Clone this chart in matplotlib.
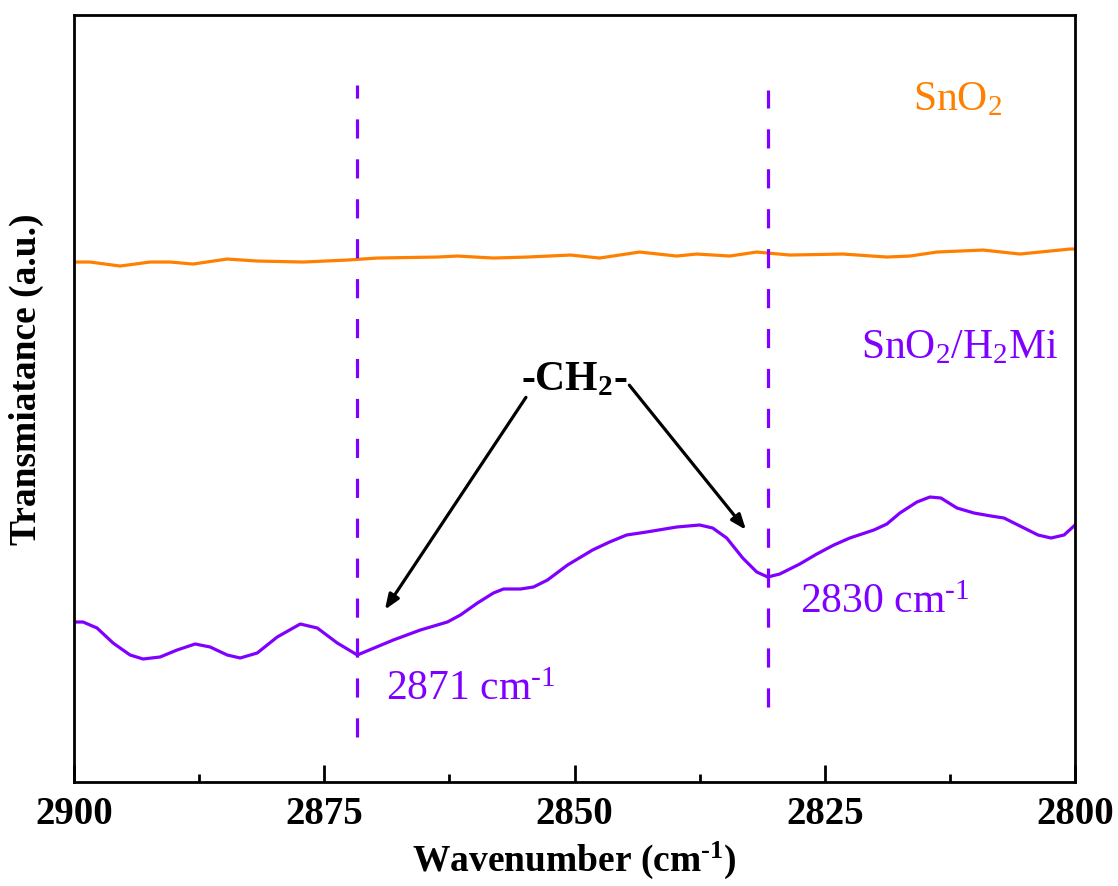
import matplotlib
matplotlib.use('Agg')
import matplotlib.pyplot as plt

plt.rcParams['font.family'] = ['Liberation Serif', 'DejaVu Serif']
plt.rcParams['mathtext.fontset'] = 'custom'
plt.rcParams['mathtext.rm'] = 'Liberation Serif'
plt.rcParams['mathtext.it'] = 'Liberation Serif:italic'
plt.rcParams['mathtext.bf'] = 'Liberation Serif:bold'

# SnO2 spectrum (a.u.)
wn_sno2 = [2900, 2898.4, 2895.4, 2892.4, 2890.4, 2888.1, 2884.7, 2881.7, 2877.1, 2872.7,
           2869.7, 2863.7, 2861.7, 2858.1, 2854.7, 2850.4, 2847.5, 2843.5, 2839.8, 2837.8,
           2834.5, 2831.8, 2828.5, 2823.2, 2818.8, 2816.5, 2813.8, 2809.2, 2805.5, 2800.5, 2800]
t_sno2 = [520, 520, 516, 520, 520, 518, 523, 521, 520, 522,
          524, 525, 526, 524, 525, 527, 524, 530, 526, 528,
          526, 530, 527, 528, 525, 526, 530, 532, 528, 533, 533]

# SnO2/H2Mi spectrum (a.u.)
wn_h2mi = [2900, 2899.1, 2897.7, 2896.1, 2894.4, 2893.1, 2891.4, 2889.7, 2887.9, 2886.4,
           2884.7, 2883.4, 2881.7, 2879.7, 2877.4, 2875.7, 2873.7, 2871.7, 2868.1, 2865.4,
           2862.7, 2861.4, 2859.7, 2858.1, 2857.1, 2855.4, 2854.1, 2852.7, 2850.7, 2848.2,
           2846.5, 2844.8, 2842.8, 2839.8, 2837.5, 2836.2, 2834.8, 2833.2, 2831.8, 2830.7,
           2829.5, 2827.5, 2825.8, 2824.1, 2822.5, 2820.1, 2818.8, 2817.5, 2815.8, 2814.5,
           2813.4, 2811.8, 2810.1, 2808.4, 2807.1, 2805.7, 2803.7, 2802.4, 2801.1, 2800]
t_h2mi = [160, 160, 154, 139, 127, 123, 125, 132, 138, 135,
          127, 124, 129, 145, 158, 154, 139, 127, 142, 152,
          160, 167, 179, 189, 193, 193, 195, 202, 217, 232,
          240, 247, 250, 255, 257, 254, 244, 224, 210, 205,
          208, 218, 228, 237, 244, 252, 258, 269, 280, 285,
          284, 274, 269, 266, 264, 257, 247, 244, 247, 257]

# marked peaks
peak_pos = [2871.7, 2830.7]
peak_lo = [45, 75]
peak_hi = [697, 692]

orange = '#FF8000'
purple = '#8000FF'

fig = plt.figure(figsize=(11.18, 8.86), dpi=100)
ax = fig.add_axes([0.0662, 0.1174, 0.8954, 0.8656])

ax.plot(wn_sno2, t_sno2, color=orange, lw=2.3)
ax.plot(wn_h2mi, t_h2mi, color=purple, lw=2.3)

for p, lo, hi in zip(peak_pos, peak_lo, peak_hi):
    ax.plot([p, p], [lo, hi], color=purple, lw=2.3, dashes=(6, 6.5))

ax.set_xlim(2900, 2800)
ax.set_ylim(0, 767)
ax.set_xticks([2900, 2875, 2850, 2825, 2800])
ax.set_xticks([2887.5, 2862.5, 2837.5, 2812.5], minor=True)
ax.set_yticks([])
ax.tick_params(axis='x', which='major', direction='in', length=12, width=2, pad=10,
               labelsize=28)
ax.tick_params(axis='x', which='minor', direction='in', length=6, width=2)
for lab in ax.get_xticklabels():
    lab.set_fontweight('bold')
for s in ax.spines.values():
    s.set_linewidth(2)

ax.set_xlabel('Wavenumber (cm$^{\\mathbf{\u2010}\\mathbf{1}}$)', fontsize=27,
              fontweight='bold', labelpad=5)
ax.set_ylabel('Transmiatance (a.u.)', fontsize=27, fontweight='bold')
ax.yaxis.set_label_coords(-0.030, 0.525)

ax.text(2811.7, 682, 'SnO$_2$', color=orange, fontsize=30, ha='center', va='center')
ax.text(2811.5, 434, 'SnO$_2$/H$_2$Mi', color=purple, fontsize=30, ha='center', va='center')
ax.text(2860.4, 92, '2871 cm$^{\u20101}$', color=purple, fontsize=30, ha='center', va='center')
ax.text(2819.0, 179, '2830 cm$^{\u20101}$', color=purple, fontsize=30, ha='center', va='center')
ax.text(2850, 402, '-CH$_\\mathbf{2}$-', color='black', fontsize=30, fontweight='bold',
        ha='center', va='center')

ax.annotate('', xy=(2869.1, 170), xytext=(2854.7, 387),
            arrowprops=dict(arrowstyle='-|>,head_length=0.9,head_width=0.35', color='black', lw=2.3))
ax.annotate('', xy=(2832.7, 250), xytext=(2844.7, 399),
            arrowprops=dict(arrowstyle='-|>,head_length=0.9,head_width=0.35', color='black', lw=2.3))

fig.savefig('out.png', dpi=100)
